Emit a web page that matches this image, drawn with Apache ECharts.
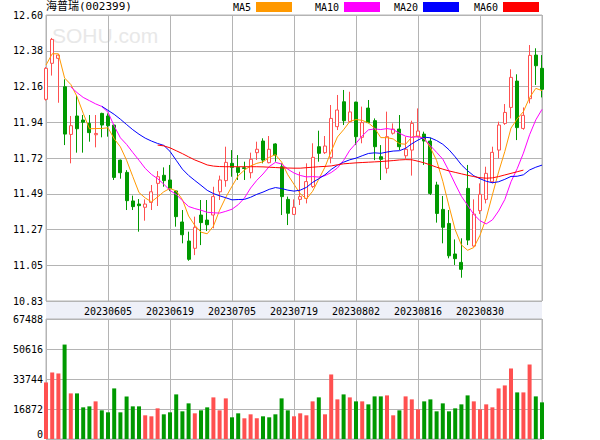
<!DOCTYPE html>
<html><head><meta charset="utf-8">
<script src="https://cdn.jsdelivr.net/npm/echarts/dist/echarts.min.js"></script>
<style>html,body{margin:0;padding:0;background:#fff}#c{width:600px;height:440px}</style>
</head><body><div id="c"></div>
<script>
const dates = ['20230522','20230523','20230524','20230525','20230526','20230529','20230530','20230531','20230601','20230602',
'20230605','20230606','20230607','20230608','20230609','20230612','20230613','20230614','20230615','20230616',
'20230619','20230620','20230621','20230626','20230627','20230628','20230629','20230630','20230703','20230704',
'20230705','20230706','20230707','20230710','20230711','20230712','20230713','20230714','20230717','20230718',
'20230719','20230720','20230721','20230724','20230725','20230726','20230727','20230728','20230731','20230801',
'20230802','20230803','20230804','20230807','20230808','20230809','20230810','20230811','20230814','20230815',
'20230816','20230817','20230818','20230821','20230822','20230823','20230824','20230825','20230828','20230829',
'20230830','20230831','20230901','20230904','20230905','20230906','20230907','20230908','20230911','20230912','20230913'];

// [open, close, low, high]
const ohlc = [
[12.078,12.270,12.070,12.278],[12.301,12.449,12.225,12.458],[12.332,12.352,12.057,12.358],[12.156,11.863,11.795,12.202],[11.861,11.915,11.682,11.975],
[11.975,11.896,11.748,12.105],[11.950,11.936,11.748,11.981],[11.929,11.872,11.816,11.981],[11.859,11.867,11.781,11.981],[11.991,11.919,11.843,11.995],
[11.975,11.915,11.847,11.991],[11.919,11.595,11.579,11.925],[11.702,11.624,11.587,11.705],[11.626,11.451,11.393,11.640],[11.449,11.414,11.393,11.482],
[11.430,11.420,11.259,11.461],[11.410,11.430,11.327,11.459],[11.440,11.506,11.393,11.548],[11.558,11.599,11.418,11.634],[11.608,11.575,11.537,11.657],
[11.579,11.525,11.510,11.672],[11.511,11.352,11.290,11.515],[11.319,11.240,11.187,11.393],[11.201,11.088,11.079,11.259],[11.156,11.286,11.114,11.352],
[11.362,11.315,11.176,11.455],[11.331,11.302,11.263,11.455],[11.362,11.476,11.280,11.537],[11.506,11.579,11.455,11.606],[11.575,11.688,11.537,11.785],
[11.682,11.657,11.599,11.764],[11.657,11.626,11.579,11.733],[11.655,11.650,11.579,11.692],[11.624,11.707,11.589,11.748],[11.748,11.769,11.703,11.816],
[11.820,11.702,11.682,11.837],[11.686,11.769,11.682,11.851],[11.802,11.733,11.692,11.806],[11.661,11.476,11.362,11.682],[11.459,11.373,11.300,11.476],
[11.366,11.410,11.362,11.459],[11.459,11.476,11.424,11.630],[11.465,11.569,11.434,11.682],[11.538,11.719,11.530,11.806],[11.785,11.744,11.692,11.884],
[11.748,11.789,11.740,11.851],[11.719,11.960,11.682,12.043],[11.909,12.012,11.888,12.105],[12.063,11.946,11.919,12.136],[11.940,12.000,11.935,12.125],
[12.061,11.847,11.795,12.063],[11.843,11.934,11.806,12.033],[12.024,11.934,11.930,12.074],[11.946,11.785,11.702,11.960],[11.723,11.707,11.579,11.795],
[11.651,11.847,11.620,12.002],[11.868,11.894,11.860,11.929],[11.894,11.785,11.764,11.981],[11.729,11.769,11.707,11.847],[11.764,11.929,11.606,11.946],
[11.847,11.882,11.843,12.022],[11.863,11.820,11.672,11.878],[11.820,11.496,11.486,11.841],[11.548,11.372,11.315,11.568],[11.397,11.286,11.187,11.480],
[11.310,11.110,11.094,11.393],[11.121,11.092,11.053,11.211],[11.069,11.026,10.974,11.218],[11.527,11.207,11.176,11.672],[11.170,11.368,11.166,11.459],
[11.389,11.490,11.368,11.558],[11.459,11.620,11.434,11.661],[11.568,11.750,11.558,11.785],[11.764,11.919,11.713,11.940],[11.929,11.997,11.920,12.049],
[12.028,12.214,11.960,12.264],[12.191,11.903,11.826,12.233],[11.898,11.979,11.890,12.028],[12.082,12.350,12.053,12.414],[12.352,12.286,12.167,12.394],
[12.270,12.140,12.090,12.352]];

const volumes = [31812,37416,36856,53107,25648,25648,17802,18363,21164,16121,
15000,28450,15000,23966,18363,18363,13319,12758,17242,13879,
15000,25087,15560,20044,14440,16121,17802,23406,16121,22846,
12198,14440,11638,13879,11638,12758,12198,13879,22846,16121,
12758,14440,13319,21164,23406,13879,36295,22285,25087,23406,
21164,21164,19483,23966,23966,24527,13319,16121,23966,22285,
16681,21164,22285,15560,20044,15560,17242,19483,24527,21164,
16681,19483,17802,28450,30131,39658,26208,26208,41899,23966,20604];

// 1 = up day (red volume bar), 0 = down day (green)
const volUp = [1,1,1,0,1,0,0,0,1,0, 0,0,0,0,0,0,1,1,1,0, 0,0,0,0,1,0,0,1,1,1, 0,0,1,1,1,0,0,0,0,0,
1,1,1,1,0,1,1,1,0,1, 0,1,0,0,0,1,1,0,1,1, 1,0,0,0,0,0,0,0,0,1, 1,1,1,1,1,1,0,1,1,0,0];

const ma5 = [12.29,12.36,12.36,12.21,12.170,12.095,11.992,11.896,11.897,11.898,
11.902,11.834,11.784,11.701,11.600,11.501,11.468,11.444,11.474,11.506,
11.527,11.511,11.458,11.356,11.298,11.256,11.246,11.293,11.392,11.472,
11.540,11.605,11.640,11.666,11.682,11.691,11.719,11.736,11.690,11.611,
11.552,11.494,11.461,11.509,11.584,11.659,11.756,11.845,11.890,11.941,
11.953,11.948,11.932,11.900,11.841,11.841,11.833,11.804,11.800,11.845,
11.852,11.837,11.779,11.700,11.571,11.417,11.271,11.177,11.144,11.161,
11.237,11.342,11.487,11.629,11.755,11.900,11.957,12.002,12.089,12.146,12.132];

const ma10 = [null,null,null,null,12.155,12.120,12.090,12.070,12.050,12.034,
11.998,11.913,11.840,11.799,11.749,11.701,11.651,11.614,11.587,11.553,
11.514,11.490,11.451,11.415,11.402,11.392,11.379,11.376,11.374,11.385,
11.398,11.426,11.467,11.529,11.577,11.616,11.662,11.688,11.678,11.646,
11.622,11.607,11.598,11.600,11.597,11.606,11.625,11.653,11.700,11.763,
11.806,11.852,11.889,11.895,11.891,11.897,11.891,11.868,11.850,11.843,
11.847,11.835,11.791,11.750,11.708,11.634,11.554,11.478,11.422,11.366,
11.327,11.307,11.332,11.387,11.458,11.568,11.649,11.745,11.859,11.951,12.016];

const ma20 = [null,null,null,null,null,null,null,null,null,12.035,
12.010,11.985,11.955,11.922,11.890,11.862,11.838,11.820,11.805,11.793,
11.756,11.701,11.646,11.607,11.576,11.546,11.515,11.495,11.481,11.469,
11.456,11.458,11.459,11.472,11.490,11.504,11.521,11.532,11.526,11.516,
11.510,11.516,11.533,11.564,11.587,11.611,11.644,11.670,11.689,11.704,
11.714,11.729,11.743,11.747,11.744,11.752,11.758,11.760,11.775,11.803,
11.826,11.844,11.840,11.823,11.800,11.766,11.722,11.673,11.636,11.605,
11.587,11.571,11.562,11.568,11.583,11.601,11.602,11.611,11.641,11.658,11.671];

const ma60 = [null,null,null,null,null,null,null,null,null,null,
null,null,null,null,null,null,null,null,11.795,11.790,
11.778,11.760,11.742,11.722,11.703,11.688,11.672,11.665,11.662,11.661,
11.661,11.661,11.661,11.661,11.661,11.660,11.658,11.656,11.654,11.653,
11.652,11.652,11.655,11.658,11.661,11.663,11.666,11.673,11.679,11.682,
11.685,11.687,11.689,11.691,11.693,11.696,11.699,11.703,11.705,11.704,
11.695,11.685,11.672,11.658,11.646,11.635,11.626,11.617,11.608,11.600,
11.593,11.590,11.592,11.600,11.610,11.620,11.630,11.640,null,null,null];

const priceTicks = ['10.83','11.05','11.27','11.49','11.72','11.94','12.16','12.38','12.60'];
const volTicks = ['0','16872','33744','50616','67488'];
const maNames = ['MA5','MA10','MA20','MA60'];

const FONT = "'DejaVu Sans Mono', 'Liberation Mono', monospace";
const RED = '#ff5050', GREEN = '#009900', GRID = '#b4b4b4';
const MA_COLORS = ['#ff9900', '#ff00ff', '#0000ff', '#ff0000'];
const maData = [ma5, ma10, ma20, ma60];

const pMin = parseFloat(priceTicks[0]);
const pMax = parseFloat(priceTicks[priceTicks.length - 1]);
const pStep = (pMax - pMin) / (priceTicks.length - 1);
const vMax = parseFloat(volTicks[volTicks.length - 1]);
const vStep = vMax / (volTicks.length - 1);

const labelEvery = (idx) => idx % 10 === 0 && idx > 0 && idx < dates.length - 1;
const splitEvery = (idx) => idx % 10 === 0;

const chart = echarts.init(document.getElementById('c'), null, {renderer: 'svg', width: 600, height: 440});
const legendRight = [308, 220, 141, 61];

chart.setOption({
  animation: false,
  backgroundColor: '#ffffff',
  title: {
    text: '海普瑞(002399)', left: 46, top: 1, padding: 0,
    textStyle: {fontSize: 11, fontWeight: 'normal', color: '#000', fontFamily: "'DejaVu Sans Mono', 'Noto Sans CJK SC', monospace"}
  },
  legend: maNames.map((n, k) => ({
    data: [n], right: legendRight[k], top: 2, padding: 0, align: 'right',
    icon: 'rect', itemWidth: 36, itemHeight: 10, selectedMode: false,
    textStyle: {fontSize: 10, fontFamily: FONT, color: '#000'}
  })),
  graphic: [
    {type: 'rect', z: -20, silent: true, shape: {x: 46, y: 301, width: 496, height: 18}, style: {fill: '#eef0f8'}},
    {type: 'text', z: -20, silent: true, left: 52, top: 25, style: {text: 'SOHU.com', fontSize: 21, fontFamily: 'Liberation Sans', fill: '#e8e8e8'}}
  ],
  grid: [
    {left: 46, right: 58, top: 15, height: 286, show: true, borderColor: GRID, borderWidth: 1, backgroundColor: 'transparent', outerBoundsMode: 'none'},
    {left: 46, right: 58, top: 319, height: 120, show: true, borderColor: GRID, borderWidth: 1, backgroundColor: 'transparent', outerBoundsMode: 'none'}
  ],
  xAxis: [
    {type: 'category', gridIndex: 0, data: dates, boundaryGap: false,
     axisLine: {show: false}, axisTick: {show: false},
     axisLabel: {interval: labelEvery, fontSize: 10, fontFamily: FONT, color: '#000', margin: 5},
     splitLine: {show: true, interval: splitEvery, lineStyle: {color: GRID, width: 1}}},
    {type: 'category', gridIndex: 1, data: dates, boundaryGap: false,
     axisLine: {show: false}, axisTick: {show: false}, axisLabel: {show: false},
     splitLine: {show: true, interval: splitEvery, lineStyle: {color: GRID, width: 1}}}
  ],
  yAxis: [
    {type: 'value', gridIndex: 0, min: pMin, max: pMax, interval: pStep, scale: true,
     axisLine: {show: false}, axisTick: {show: false},
     axisLabel: {fontSize: 10, fontFamily: FONT, color: '#000', margin: 3,
       formatter: (v) => priceTicks[Math.round((v - pMin) / pStep)]},
     splitLine: {show: true, lineStyle: {color: GRID, width: 1}}},
    {type: 'value', gridIndex: 1, min: 0, max: vMax, interval: vStep,
     axisLine: {show: false}, axisTick: {show: false},
     axisLabel: {fontSize: 10, fontFamily: FONT, color: '#000', margin: 3,
       verticalAlignMinLabel: 'bottom',
       formatter: (v) => volTicks[Math.round(v / vStep)]},
     splitLine: {show: true, lineStyle: {color: GRID, width: 1}}}
  ],
  series: [
    {type: 'candlestick', name: 'K', xAxisIndex: 0, yAxisIndex: 0, data: ohlc, barWidth: 3.4, clip: false, silent: true,
     itemStyle: {color: '#ffffff', color0: GREEN, borderColor: RED, borderColor0: GREEN, borderWidth: 1}},
    ...maNames.map((n, k) => ({
      type: 'line', name: n, xAxisIndex: 0, yAxisIndex: 0, data: maData[k],
      color: MA_COLORS[k], symbol: 'none', showSymbol: false, connectNulls: false, silent: true,
      lineStyle: {width: 1, color: MA_COLORS[k]}, itemStyle: {color: MA_COLORS[k]}
    })),
    {type: 'bar', name: 'VOL', xAxisIndex: 1, yAxisIndex: 1, barWidth: 4, clip: false, silent: true,
     data: volumes.map((v, i) => ({value: v, itemStyle: {color: volUp[i] ? RED : GREEN}}))}
  ]
});
</script>
</body></html>
